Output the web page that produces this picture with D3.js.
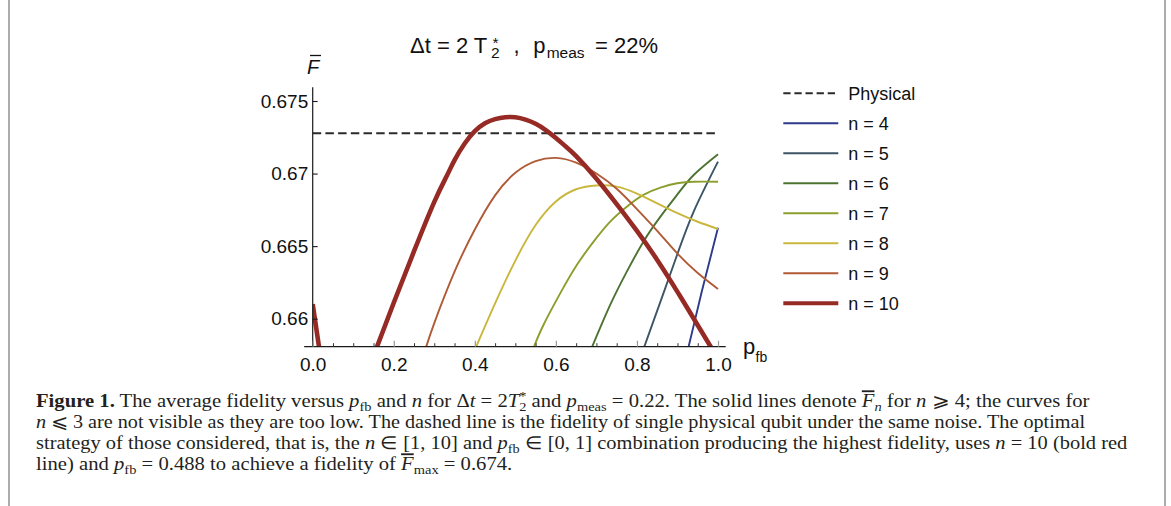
<!DOCTYPE html>
<html>
<head>
<meta charset="utf-8">
<script src="https://cdn.jsdelivr.net/npm/d3@7"></script>
<style>
    body { margin: 0; background: #fff; }
    svg { display: block; }
    text { white-space: pre; }
</style>
</head>
<body>
<svg id="fig" width="1171" height="506"></svg>
<script>
// values: [p_fb, F]
var physicalF = 0.67278;

var n4 = [[0.926,0.6579],[0.96,0.66187],[1.0,0.66627]];
var n5 = [[0.816,0.6579],[0.858,0.66118],[0.899,0.66439],[0.94,0.66738],[1.0,0.67082]];
var n6 = [[0.687,0.6579],[0.734,0.66095],[0.775,0.66324],[0.816,0.66531],[0.858,0.66703],
          [0.899,0.66853],[0.94,0.6699],[1.0,0.67133]];
var n7 = [[0.545,0.6580],[0.569,0.65955],[0.611,0.66176],[0.652,0.66371],[0.693,0.66531],
          [0.734,0.66669],[0.775,0.66772],[0.816,0.66853],[0.858,0.66903],[0.899,0.66933],
          [0.94,0.66944],[1.0,0.66944]];
var n8 = [[0.40,0.65785],[0.45,0.66105],[0.50,0.664],[0.55,0.66645],[0.60,0.66808],
          [0.65,0.66892],[0.70,0.66918],[0.75,0.6691],[0.80,0.66862],[0.85,0.66795],
          [0.90,0.66727],[0.95,0.66668],[1.0,0.66618]];
var n9 = [[0.277,0.6578],[0.30,0.6597],[0.35,0.66324],[0.40,0.66615],[0.45,0.6685],
          [0.50,0.67005],[0.55,0.67085],[0.60,0.67108],[0.65,0.67075],[0.70,0.67],
          [0.75,0.66895],[0.80,0.66755],[0.85,0.66605],[0.90,0.66448],[0.95,0.66315],[1.0,0.66205]];
var n10 = [[0.155,0.6578],[0.20,0.6611],[0.25,0.66465],[0.30,0.66805],[0.331,0.66985],
           [0.35,0.67093],[0.375,0.67207],[0.40,0.67292],[0.425,0.67347],[0.45,0.67375],
           [0.475,0.67388],[0.50,0.67388],[0.525,0.67372],[0.55,0.67343],[0.575,0.673],
           [0.60,0.67245],[0.625,0.67185],[0.65,0.6712],[0.70,0.66965],[0.75,0.6679],
           [0.80,0.66605],[0.85,0.66405],[0.90,0.66185],[0.95,0.65955],[0.99,0.6577]];
var n10Edge = [[0,0.6610],[0.018,0.6576]];

var seriesNames = ['n = 4','n = 5','n = 6','n = 7','n = 8','n = 9','n = 10'];
var seriesData = [n4, n5, n6, n7, n8, n9, n10];

var xTicks = [0, 0.2, 0.4, 0.6, 0.8, 1.0];
var xTickLabels = ['0.0','0.2','0.4','0.6','0.8','1.0'];
var xMinor = [0.05,0.1,0.15,0.25,0.3,0.35,0.45,0.5,0.55,0.65,0.7,0.75,0.85,0.9,0.95];
var yTicks = [0.66, 0.665, 0.67, 0.675];
var yTickLabels = ['0.66','0.665','0.67','0.675'];

(function(){
    var colors = ['#2e3a8c','#3c5566','#4d7333','#8c9e2b','#c9b73d','#b05a36','#962b26'];
    var sans = 'Liberation Sans, Arial, sans-serif';
    var serif = 'Liberation Serif, Times New Roman, serif';

    var svg = d3.select('#fig');
    svg.append('rect').attr('width', 1171).attr('height', 506).attr('fill', '#fff');

    // frame lines left and right
    svg.append('line').attr('x1', 9).attr('x2', 9).attr('y1', 0).attr('y2', 506)
        .attr('stroke', '#999').attr('stroke-width', 1.6);
    svg.append('line').attr('x1', 1165).attr('x2', 1165).attr('y1', 0).attr('y2', 506)
        .attr('stroke', '#999').attr('stroke-width', 1.6);

    var x = d3.scaleLinear().domain([0, 1]).range([312.7, 718]);
    var y = d3.scaleLinear().domain([0.66, 0.675]).range([318.7, 101]);
    var yBot = 346.7, yTop = 87.3;

    svg.append('clipPath').attr('id', 'plotclip')
        .append('rect')
        .attr('x', x(0)).attr('y', yTop)
        .attr('width', x(1) - x(0) + 3).attr('height', yBot - yTop);

    var g = svg.append('g').attr('clip-path', 'url(#plotclip)');

    g.append('line')
        .attr('x1', x(0)).attr('x2', x(1))
        .attr('y1', y(physicalF)).attr('y2', y(physicalF))
        .attr('stroke', '#2b2b2b').attr('stroke-width', 2)
        .attr('stroke-dasharray', '8.5,4.2');

    var line = d3.line()
        .x(function(d){ return x(d[0]) })
        .y(function(d){ return y(d[1]) })
        .curve(d3.curveNatural);

    seriesData.forEach(function(s, i){
        g.append('path')
            .datum(s)
            .attr('d', line)
            .attr('fill', 'none')
            .attr('stroke', colors[i])
            .attr('stroke-width', i == 6 ? 4.6 : 1.9);
    });
    g.append('path')
        .datum(n10Edge)
        .attr('d', d3.line().x(function(d){ return x(d[0]) }).y(function(d){ return y(d[1]) }))
        .attr('fill', 'none')
        .attr('stroke', colors[6])
        .attr('stroke-width', 4.6);

    // axes
    var axisCol = '#1a1a1a';
    svg.append('line').attr('x1', x(-0.021)).attr('x2', x(1.019))
        .attr('y1', yBot).attr('y2', yBot).attr('stroke', axisCol).attr('stroke-width', 1.2);
    svg.append('line').attr('x1', x(0)).attr('x2', x(0))
        .attr('y1', yTop).attr('y2', yBot).attr('stroke', axisCol).attr('stroke-width', 1.2);

    var yAxis = svg.append('g')
        .attr('transform', 'translate(' + x(0) + ',0)')
        .call(d3.axisLeft(y).tickValues(yTicks)
            .tickFormat(function(d, i){ return yTickLabels[i] })
            .tickSizeInner(-5).tickSizeOuter(0).tickPadding(4.5));
    yAxis.select('.domain').remove();
    yAxis.selectAll('line').attr('stroke', axisCol).attr('stroke-width', 1.1);
    yAxis.selectAll('text').attr('font-family', sans).attr('font-size', 19).attr('fill', '#111');

    var xAxis = svg.append('g')
        .attr('transform', 'translate(0,' + yBot + ')')
        .call(d3.axisBottom(x).tickValues(xTicks)
            .tickFormat(function(d, i){ return xTickLabels[i] })
            .tickSizeInner(-6).tickSizeOuter(0).tickPadding(11));
    xAxis.select('.domain').remove();
    xAxis.selectAll('line').attr('stroke', '#999').attr('stroke-width', 1.2);
    xAxis.selectAll('text').attr('font-family', sans).attr('font-size', 19).attr('fill', '#111');

    var xMin = svg.append('g')
        .attr('transform', 'translate(0,' + yBot + ')')
        .call(d3.axisBottom(x).tickValues(xMinor).tickFormat('').tickSizeInner(-3.5).tickSizeOuter(0));
    xMin.select('.domain').remove();
    xMin.selectAll('line').attr('stroke', '#333').attr('stroke-width', 1);

    // axis labels
    var fl = svg.append('text').attr('x', 307).attr('y', 74.3)
        .attr('font-family', sans).attr('font-size', 20).attr('font-style', 'italic')
        .attr('fill', '#111').text('F');
    var fb = fl.node().getBBox();
    svg.append('line').attr('x1', fb.x + 3).attr('x2', fb.x + fb.width)
        .attr('y1', 55.5).attr('y2', 55.5).attr('stroke', '#111').attr('stroke-width', 1.3);

    var pl = svg.append('text').attr('font-family', sans).attr('fill', '#111');
    pl.append('tspan').attr('x', 743).attr('y', 354.4).attr('font-size', 22).text('p');
    pl.append('tspan').attr('x', 755.5).attr('y', 361.7).attr('font-size', 14).text('fb');

    // title
    var t = svg.append('text').attr('font-family', sans).attr('fill', '#111').attr('font-size', 22);
    t.append('tspan').attr('x', 410).attr('y', 53).text('\u0394t = 2 T');
    t.append('tspan').attr('x', 491).attr('y', 57.5).attr('font-size', 15.5).text('2');
    t.append('tspan').attr('x', 492.5).attr('y', 48).attr('font-size', 15.5).text('*');
    t.append('tspan').attr('x', 513.5).attr('y', 53).text(',');
    t.append('tspan').attr('x', 533.3).attr('y', 53).text('p');
    t.append('tspan').attr('x', 546.7).attr('y', 57.5).attr('font-size', 15.5).text('meas');
    t.append('tspan').attr('x', 595).attr('y', 53).text('= 22%');

    // legend
    var lg = svg.append('g');
    var rowY = function(i){ return 93.3 + i * 30 };
    lg.append('line').attr('x1', 783.3).attr('x2', 838.3)
        .attr('y1', rowY(0)).attr('y2', rowY(0))
        .attr('stroke', '#2b2b2b').attr('stroke-width', 2).attr('stroke-dasharray', '7.3,3.8');
    lg.append('text').attr('x', 848.3).attr('y', rowY(0)).attr('dy', '0.36em')
        .attr('font-family', sans).attr('font-size', 18).attr('fill', '#111').text('Physical');
    seriesNames.forEach(function(nm, i){
        lg.append('line').attr('x1', 783.3).attr('x2', 838.3)
            .attr('y1', rowY(i + 1)).attr('y2', rowY(i + 1))
            .attr('stroke', colors[i]).attr('stroke-width', i == 6 ? 4 : 2);
        lg.append('text').attr('x', 848.3).attr('y', rowY(i + 1)).attr('dy', '0.36em')
            .attr('font-family', sans).attr('font-size', 18).attr('fill', '#111').text(nm);
    });

    // caption (math relations get wider spaces, as in the typeset original)
    var sp = '\u2005';
    var capLines = [
        [['Figure 1.','b'],[' The average fidelity versus ',''],['p','i'],['fb','sub'],[' and ',''],['n','i'],
         [' for \u0394',''],['t','i'],[sp + '=' + sp + '2',''],['T','i'],['2','sub'],['*','sup'],[' and ',''],['p','i'],['meas','sub'],
         [sp + '=' + sp + '0.22. The solid lines denote ',''],['F','io'],['n','subi'],[' for ',''],['n','i'],[sp + '\u2A7E' + sp + '4; the curves for','']],
        [['n','i'],[sp + '\u2A7D' + sp + '3 are not visible as they are too low. The dashed line is the fidelity of single physical qubit under the same noise. The optimal','']],
        [['strategy of those considered, that is, the ',''],['n','i'],[sp + '\u2208' + sp + '[1, 10] and ',''],['p','i'],['fb','sub'],
         [sp + '\u2208' + sp + '[0, 1] combination producing the highest fidelity, uses ',''],['n','i'],[sp + '=' + sp + '10 (bold red','']],
        [['line) and ',''],['p','i'],['fb','sub'],[sp + '=' + sp + '0.488 to achieve a fidelity of ',''],['F','io'],['max','sub'],[sp + '=' + sp + '0.674.','']]
    ];
    var capBase = [407.3, 428.3, 449.3, 470.3];
    var capEnd = [1089.5, 1087, 1130.5, null];
    var capFs = 18.5;
    var firstSx = 1;

    capLines.forEach(function(segs, li){
        var tx = svg.append('text').attr('x', 0).attr('y', 0)
            .attr('font-family', serif).attr('font-size', capFs).attr('fill', '#231f20');
        var off = 0;
        segs.forEach(function(s){
            var ts = tx.append('tspan').text(s[0]);
            var st = s[1];
            var target = 0;
            if (st == 'b') ts.attr('font-weight', 'bold');
            if (st == 'i' || st == 'io' || st == 'subi') ts.attr('font-style', 'italic');
            if (st == 'io') ts.attr('text-decoration', 'overline');
            if (st == 'sub' || st == 'subi') { target = 4; ts.attr('font-size', capFs * 0.7); }
            if (st == 'sup') { target = -7; ts.attr('font-size', capFs * 0.7).attr('dx', -6.5); }
            if (target != off) { ts.attr('dy', target - off); off = target; }
        });
        var w = tx.node().getBBox().width;
        var sx = capEnd[li] ? (capEnd[li] - 36) / w : firstSx;
        if (li == 0) firstSx = sx;
        tx.attr('transform', 'translate(36,' + capBase[li] + ') scale(' + sx + ',1)');
    });
})();
</script>
</body>
</html>
